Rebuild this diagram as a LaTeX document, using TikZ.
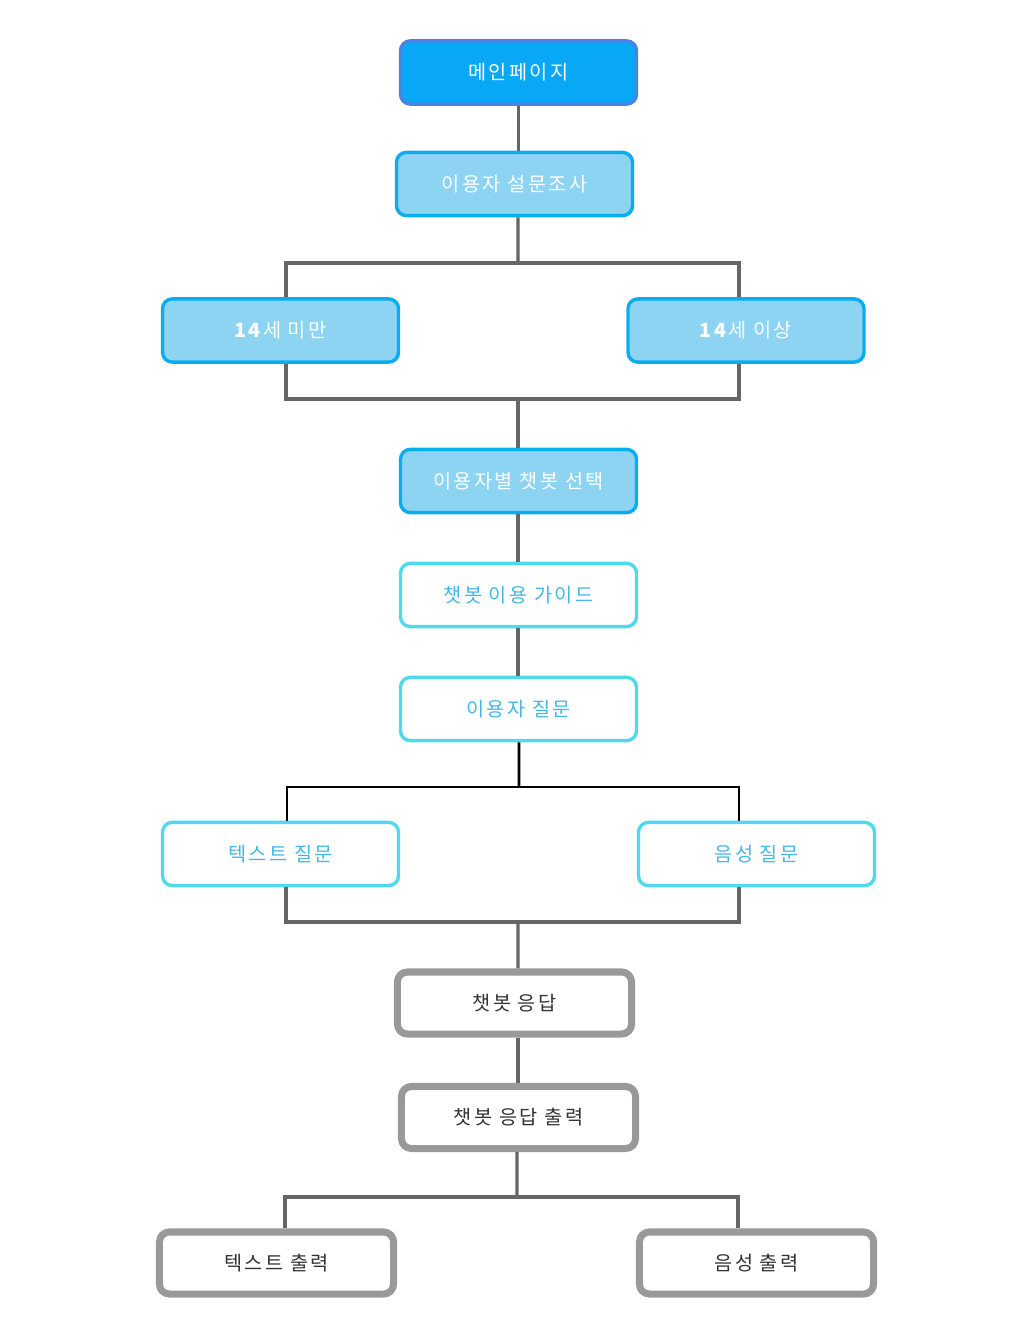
\documentclass[tikz,border=0pt]{standalone}
\usepackage{fontspec}
\setmainfont{Noto Sans CJK KR}[LetterSpace=12]
\definecolor{mainfill}{HTML}{08A8F6}
\definecolor{mainline}{HTML}{4A82E6}
\definecolor{lightfill}{HTML}{8DD4F2}
\definecolor{lightline}{HTML}{0AACF0}
\definecolor{cyanline}{HTML}{50D8EC}
\definecolor{cyantext}{HTML}{45B8E8}
\definecolor{grayline}{HTML}{999999}
\definecolor{linkgray}{HTML}{666666}
\tikzset{
  box/.style={rounded corners=7pt, minimum width=5.9cm, minimum height=1.58cm,
    font=\fontsize{14}{16}\selectfont},
  mainbox/.style={box, draw=mainline, fill=mainfill, line width=2.4pt, text=white},
  bluebox/.style={box, draw=lightline, fill=lightfill, line width=2.4pt, text=white},
  cyanbox/.style={box, draw=cyanline, fill=white, line width=2.4pt, text=cyantext},
  graybox/.style={box, draw=grayline, fill=white, line width=5pt, text=black!80,
    minimum width=5.85cm, minimum height=1.55cm},
  link/.style={draw=linkgray, line width=2.2pt},
}
\begin{document}
\begin{tikzpicture}[x=0.025cm, y=-0.025cm]
  \useasboundingbox (0,0) rectangle (1021,1326);
  % boxes
  \node[mainbox] (main) at (518.5,72.5) {메인페이지};
  \node[bluebox] (survey) at (514.5,184) {이용자 설문조사};
  \node[bluebox] (young) at (280.5,330.5) {\textbf{14}세 미만};
  \node[bluebox] (old) at (746,330.5) {\textbf{14}세 이상};
  \node[bluebox] (select) at (518.5,481) {이용자별 챗봇 선택};
  \node[cyanbox] (guide) at (518.5,595) {챗봇 이용 가이드};
  \node[cyanbox] (ask) at (518.5,709) {이용자 질문};
  \node[cyanbox] (textask) at (280.5,854) {텍스트 질문};
  \node[cyanbox] (voiceask) at (756.5,854) {음성 질문};
  \node[graybox] (reply) at (514.5,1003) {챗봇 응답};
  \node[graybox] (out) at (518.5,1117.5) {챗봇 응답 출력};
  \node[graybox] (textout) at (276.5,1263) {텍스트 출력};
  \node[graybox] (voiceout) at (756.5,1263) {음성 출력};
  % junctions
  \coordinate (j1) at (518,263);
  \coordinate (j2) at (518,399);
  \coordinate (j3) at (519,787);
  \coordinate (j4) at (518,922);
  \coordinate (j5) at (517,1197);
  % connectors
  \draw[link] (main.south) -- (main.south |- survey.north);
  \draw[link] ([xshift=0.087cm]survey.south) -- (j1);
  \draw[link] ([shift={(5.5,0)}]young.north) |- (j1) -| ([shift={(-7,0)}]old.north);
  \draw[link] ([shift={(5.5,0)}]young.south) |- (j2) -| ([shift={(-7,0)}]old.south);
  \draw[link] (j2) -- ([xshift=-0.0125cm]select.north);
  \draw[link] ([xshift=-0.0125cm]select.south) -- ([xshift=-0.0125cm]guide.north);
  \draw[link] ([xshift=-0.0125cm]guide.south) -- ([xshift=-0.0125cm]ask.north);
  \draw[line width=2pt] ([xshift=0.0125cm]ask.south) -- (j3);
  \draw[line width=2pt] ([shift={(6.5,0)}]textask.north) |- (j3) -| ([shift={(-17.5,0)}]voiceask.north);
  \draw[link] ([shift={(5.5,0)}]textask.south) |- (j4) -| ([shift={(-17.5,0)}]voiceask.south);
  \draw[link] (j4) -- ([xshift=0.0875cm]reply.north);
  \draw[link] ([xshift=0.0875cm]reply.south) -- ([xshift=0.0875cm]reply.south |- out.north);
  \draw[link] ([xshift=-0.0375cm]out.south) -- (j5);
  \draw[link] ([shift={(8.5,0)}]textout.north) |- (j5) -| ([shift={(-18.5,0)}]voiceout.north);
\end{tikzpicture}
\end{document}
